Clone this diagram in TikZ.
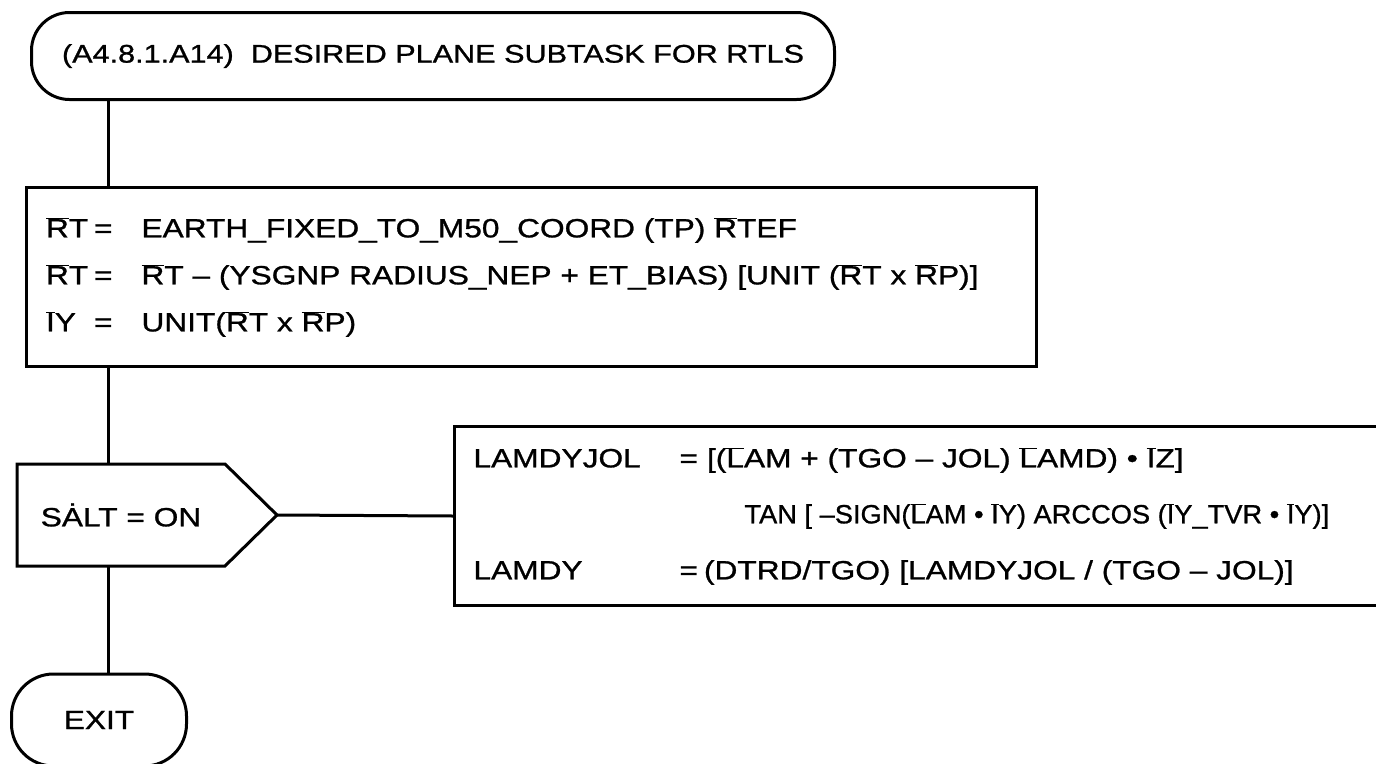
\documentclass[tikz,border=0pt]{standalone}
\usepackage{fontspec}
\setmainfont{Liberation Sans}[FakeStretch=1.2, FakeBold=1]
\usepackage{tikz}
\usetikzlibrary{positioning, calc}
\newcommand{\vb}[1]{$\overline{\mbox{#1}}$}
\newcommand{\eqrow}[2]{\makebox[48pt][l]{#1}=\hspace{29pt}#2}

\begin{document}
\begin{tikzpicture}[x=1pt, y=-1pt, line width=3pt,
  font=\fontsize{26.4}{47}\selectfont,
  term/.style={draw, rectangle, rounded corners=38pt, minimum height=87pt, align=center},
  proc/.style={draw, rectangle, align=left, inner xsep=20pt},
  test/.style={rectangle, outer sep=0pt, minimum width=208pt, minimum height=102pt}]
  \useasboundingbox (0,0) rectangle (1376,763);
  \node[term, minimum width=803pt, font=\fontsize{25.5}{28}\selectfont] (title) at (433,56)
    {(A4.8.1.A14)\ \ DESIRED PLANE SUBTASK FOR RTLS};
  \node[proc, minimum width=1010pt, minimum height=179pt, text width=970pt] (calc) at (531,277)
    {\eqrow{\vb{R}T}{EARTH\_FIXED\_TO\_M50\_COORD (TP) \vb{R}TEF}\\
     \eqrow{\vb{R}T}{\vb{R}T -- (YSGNP RADIUS\_NEP + ET\_BIAS) [UNIT (\vb{R}T x \vb{R}P)]}\\
     \eqrow{\vb{I}Y}{UNIT(\vb{R}T x \vb{R}P)}};
  \node[test] (salt) at (121,515) {S\.ALT = ON};
  \coordinate (salttip) at ([xshift=52pt]salt.east);
  \draw (salt.north west) -- (salt.north east) -- (salttip) -- (salt.south east)
    -- (salt.south west) -- cycle;
  \node[proc, anchor=west, minimum width=950pt, minimum height=179pt, text width=1000pt,
    inner xsep=19pt, font=\fontsize{26.4}{56}\selectfont] (lamdy) at (453,516)
    {\makebox[206pt][l]{LAMDYJOL}=\hspace{9pt}[(\vb{L}AM + (TGO -- JOL) \vb{L}AMD) \textbullet{} \vb{I}Z]\\
     \hspace{271pt}\scalebox{0.86}[1]{TAN [ --SIGN(\vb{L}AM \textbullet{} \vb{I}Y) ARCCOS (\vb{I}Y\_TVR \textbullet{} \vb{I}Y)]}\\
     \makebox[206pt][l]{LAMDY}=\hspace{6pt}(DTRD/TGO) [LAMDYJOL / (TGO -- JOL)]};
  \node[term, rounded corners=42pt, minimum width=175pt, minimum height=92pt] (exit) at (99,720) {EXIT};
  \coordinate (spine) at (108,0);
  \draw (title.south -| spine) -- (calc.north -| spine);
  \draw (calc.south -| spine) -- (salt.north -| spine);
  \draw (salt.south -| spine) -- (exit.north -| spine);
  \draw (salttip) -- (lamdy.west);
\end{tikzpicture}
\end{document}
